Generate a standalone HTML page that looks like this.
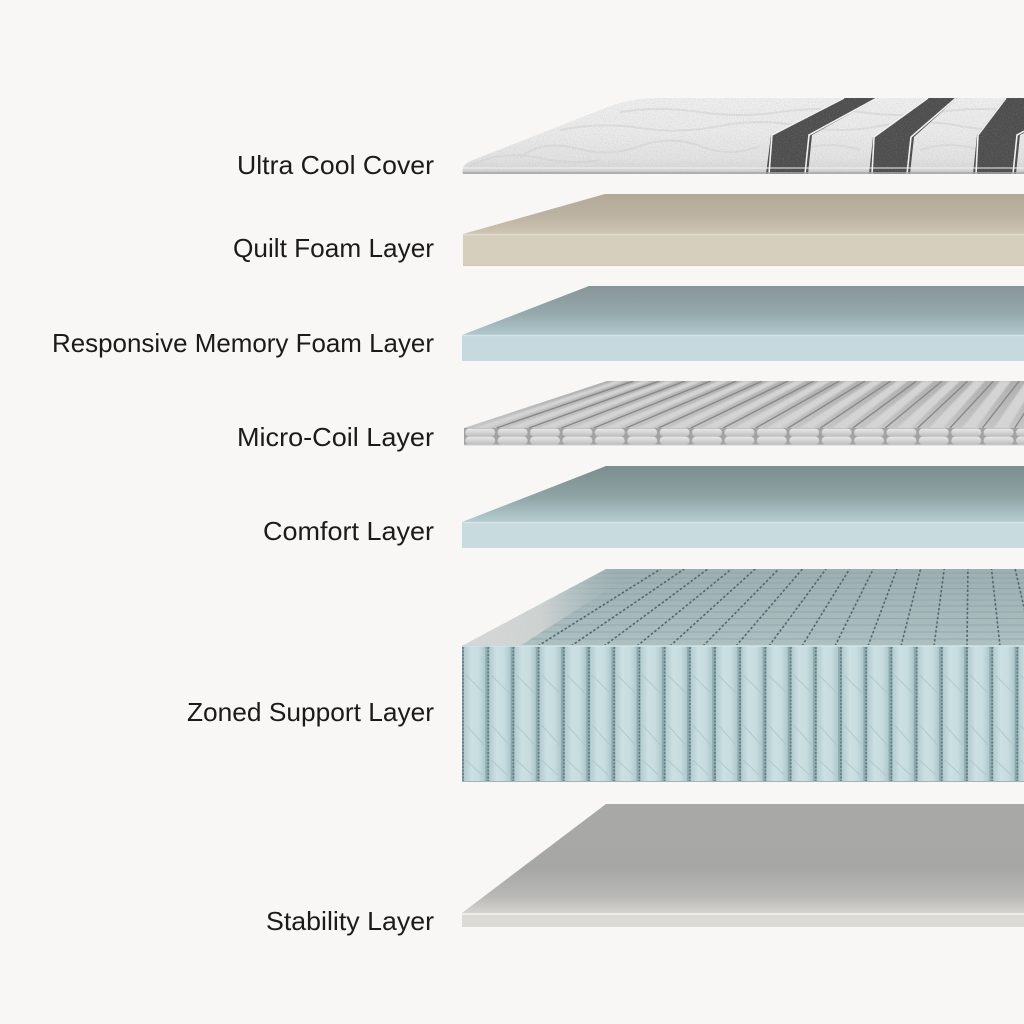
<!DOCTYPE html>
<html><head><meta charset="utf-8"><style>
html,body{margin:0;padding:0;background:#f8f7f5;}
svg{display:block;}
</style></head><body>
<svg width="1024" height="1024" viewBox="0 0 1024 1024" xmlns="http://www.w3.org/2000/svg">
<defs>
  <linearGradient id="coverG" x1="0" y1="98" x2="0" y2="174" gradientUnits="userSpaceOnUse">
    <stop offset="0" stop-color="#f0f0f0"/><stop offset="0.45" stop-color="#ececec"/>
    <stop offset="0.8" stop-color="#e4e4e4"/><stop offset="0.95" stop-color="#d8d8d8"/><stop offset="1" stop-color="#bdbdbd"/>
  </linearGradient>
  <linearGradient id="quiltTop" x1="0" y1="194" x2="0" y2="234" gradientUnits="userSpaceOnUse">
    <stop offset="0" stop-color="#b2a998"/><stop offset="0.6" stop-color="#bdb4a3"/><stop offset="1" stop-color="#cdc5b4"/>
  </linearGradient>
  <linearGradient id="memTop" x1="0" y1="286" x2="0" y2="335" gradientUnits="userSpaceOnUse">
    <stop offset="0" stop-color="#879598"/><stop offset="0.55" stop-color="#95a8ac"/><stop offset="1" stop-color="#b0c8cd"/>
  </linearGradient>
  <linearGradient id="comfTop" x1="0" y1="466" x2="0" y2="522" gradientUnits="userSpaceOnUse">
    <stop offset="0" stop-color="#7b8d8d"/><stop offset="0.55" stop-color="#8fa4a5"/><stop offset="1" stop-color="#b6cdd0"/>
  </linearGradient>
  <linearGradient id="stabTop" x1="0" y1="804" x2="0" y2="913" gradientUnits="userSpaceOnUse">
    <stop offset="0" stop-color="#a8a8a6"/><stop offset="0.6" stop-color="#a7a7a5"/><stop offset="0.85" stop-color="#b9b9b6"/><stop offset="1" stop-color="#d4d3cf"/>
  </linearGradient>
  <linearGradient id="coilTop" x1="0" y1="381" x2="0" y2="428" gradientUnits="userSpaceOnUse">
    <stop offset="0" stop-color="#b0b0b0"/><stop offset="1" stop-color="#c6c6c6"/>
  </linearGradient>
  <linearGradient id="coilCell" x1="0" y1="0" x2="0" y2="1">
    <stop offset="0" stop-color="#e8e8e8"/><stop offset="0.5" stop-color="#d4d4d4"/><stop offset="1" stop-color="#bcbcbc"/>
  </linearGradient>
  <linearGradient id="zoneTop" x1="0" y1="569" x2="0" y2="645" gradientUnits="userSpaceOnUse">
    <stop offset="0" stop-color="#9db0b2"/><stop offset="1" stop-color="#adc1c3"/>
  </linearGradient>
  <linearGradient id="pocketG" x1="0" y1="0" x2="1" y2="0">
    <stop offset="0" stop-color="#b3cbcf"/><stop offset="0.35" stop-color="#cbe0e3"/><stop offset="0.7" stop-color="#c6dcdf"/><stop offset="1" stop-color="#aec7cb"/>
  </linearGradient>
  <linearGradient id="zoneLeft" x1="462" y1="0" x2="620" y2="0" gradientUnits="userSpaceOnUse">
    <stop offset="0" stop-color="#d8dad8"/><stop offset="0.5" stop-color="#cfd4d3"/><stop offset="1" stop-color="#adc0c2" stop-opacity="0"/>
  </linearGradient>
  <pattern id="coilFront" patternUnits="userSpaceOnUse" x="464" y="428" width="32.4" height="17">
    <rect x="0" y="0" width="32.4" height="17" fill="#a2a2a2"/>
    <rect x="1.2" y="0.5" width="30" height="8" rx="4" fill="url(#coilCell)"/>
    <rect x="1.2" y="8.6" width="30" height="8" rx="4" fill="url(#coilCell)"/>
  </pattern>
  <pattern id="pockets" patternUnits="userSpaceOnUse" x="462" y="645" width="25.2" height="140">
    <rect x="0" y="0" width="25.2" height="140" fill="#8eaaae"/>
    <rect x="2" y="1" width="21.4" height="139" rx="3" fill="url(#pocketG)"/>
    <line x1="1" y1="2" x2="1" y2="140" stroke="#5f7b7f" stroke-width="1.6" stroke-dasharray="2 1.5"/>
    <path d="M4,30 L22,48 M4,80 L22,100 M4,115 L20,130" stroke="#a9c2c6" stroke-width="0.8" fill="none"/>
  </pattern>
  <filter id="noise" x="0" y="0" width="100%" height="100%">
    <feTurbulence type="fractalNoise" baseFrequency="0.85" numOctaves="2" seed="4"/>
    <feColorMatrix type="matrix" values="0 0 0 0 0.35  0 0 0 0 0.35  0 0 0 0 0.35  1.8 0 0 0 -0.7"/>
  </filter>
  <filter id="soft"><feGaussianBlur stdDeviation="0.8"/></filter>
  <clipPath id="coverClip"><path d="M463,174 Q460,165 473,160 L600,110 Q625,99 652,98 L1024,98 L1024,174 Z"/></clipPath>
  <clipPath id="coilClip"><path d="M607,381 L1024,381 L1024,428 L464,428 Z"/></clipPath>
  <clipPath id="zoneClip"><path d="M606,569 L1024,569 L1024,646 L462,646 Z"/></clipPath>
</defs>

<rect width="1024" height="1024" fill="#f8f7f5"/>

<!-- Ultra Cool Cover -->
<g clip-path="url(#coverClip)">
  <rect x="440" y="96" width="584" height="80" fill="url(#coverG)"/>
  <g stroke="#d6d6d6" stroke-width="2" fill="none" opacity="0.6">
    <path d="M520,158 Q540,140 575,148 Q610,158 640,146 Q670,135 700,146 Q730,158 760,146"/>
    <path d="M470,166 Q500,150 540,158 Q570,165 600,160"/>
    <path d="M560,130 Q600,122 640,128 Q680,134 720,126 Q760,118 800,126 Q840,134 880,126 Q920,118 960,126 Q990,132 1024,126"/>
    <path d="M620,112 Q660,106 700,112 Q740,118 780,112 Q820,106 860,112 Q900,118 940,112 Q980,106 1024,112"/>
    <path d="M800,150 Q830,140 860,150 M920,150 Q950,140 980,150"/>
  </g>
  <path d="M843,98 L878,98 L812,135 L808,174 L766,174 L771,135 Z" fill="#4c4c4c"/>
  <path d="M927,98 L957,98 L914,137 L910,174 L869,174 L873,137 Z" fill="#4c4c4c"/>
  <path d="M1005,98 L1030,98 L1030,130 L1020,135 L1016,174 L973,174 L977,135 Z" fill="#4c4c4c"/>
  <g stroke="#f6f6f6" stroke-width="1.6" fill="none">
    <path d="M769,174 L772,135 L844,98"/><path d="M805,174 L809,135 L877,98"/>
    <path d="M872,174 L874,137 L928,98"/><path d="M907,174 L911,137 L956,98"/>
    <path d="M976,174 L978,135 L1006,98"/><path d="M1013,174 L1017,135 L1030,128"/>
  </g>
  <rect x="440" y="96" width="584" height="80" filter="url(#noise)" opacity="0.3"/>
  <line x1="462" y1="168" x2="1024" y2="168" stroke="#f2f2f2" stroke-width="1.2" opacity="0.8"/>
  <line x1="462" y1="173" x2="1024" y2="173" stroke="#a9a9a9" stroke-width="1.5"/>
</g>

<!-- Quilt Foam Layer -->
<path d="M605,194 L1024,194 L1024,234 L463,234 Z" fill="url(#quiltTop)"/>
<rect x="463" y="234" width="561" height="32" fill="#d7cfbe"/>
<line x1="463" y1="234.5" x2="1024" y2="234.5" stroke="#e2dbcc" stroke-width="1.5"/>
<line x1="463" y1="265.5" x2="1024" y2="265.5" stroke="#cfc7b6" stroke-width="1"/>

<!-- Responsive Memory Foam Layer -->
<path d="M589,286 L1024,286 L1024,335 L462,335 Z" fill="url(#memTop)"/>
<rect x="462" y="335" width="562" height="26" fill="#c5d9de"/>
<line x1="462" y1="335.5" x2="1024" y2="335.5" stroke="#d3e3e7" stroke-width="1.5"/>

<!-- Micro-Coil Layer -->
<path d="M607,381 L1024,381 L1024,428 L464,428 Z" fill="url(#coilTop)"/>
<g clip-path="url(#coilClip)">
  <g fill="#d6d6d6" filter="url(#soft)">
    <path d="M474,428 L488,428 L626,381 L615,381 Z"/>
    <path d="M507,428 L521,428 L652,381 L641,381 Z"/>
    <path d="M539,428 L553,428 L677,381 L666,381 Z"/>
    <path d="M572,428 L586,428 L703,381 L692,381 Z"/>
    <path d="M604,428 L618,428 L729,381 L718,381 Z"/>
    <path d="M637,428 L651,428 L754,381 L743,381 Z"/>
    <path d="M669,428 L683,428 L780,381 L769,381 Z"/>
    <path d="M702,428 L716,428 L806,381 L795,381 Z"/>
    <path d="M734,428 L748,428 L831,381 L820,381 Z"/>
    <path d="M767,428 L781,428 L857,381 L846,381 Z"/>
    <path d="M799,428 L813,428 L883,381 L872,381 Z"/>
    <path d="M832,428 L846,428 L908,381 L897,381 Z"/>
    <path d="M864,428 L878,428 L934,381 L923,381 Z"/>
    <path d="M897,428 L911,428 L960,381 L949,381 Z"/>
    <path d="M929,428 L943,428 L985,381 L974,381 Z"/>
    <path d="M962,428 L976,428 L1011,381 L1000,381 Z"/>
    <path d="M994,428 L1008,428 L1037,381 L1026,381 Z"/>
  </g>
  <g stroke="#888888" stroke-width="1.4" fill="none">
    <line x1="496.4" y1="428" x2="633.7" y2="381"/><line x1="528.8" y1="428" x2="659.4" y2="381"/>
    <line x1="561.2" y1="428" x2="685.1" y2="381"/><line x1="593.6" y1="428" x2="710.8" y2="381"/>
    <line x1="626" y1="428" x2="736.5" y2="381"/><line x1="658.4" y1="428" x2="762.2" y2="381"/>
    <line x1="690.8" y1="428" x2="787.9" y2="381"/><line x1="723.2" y1="428" x2="813.6" y2="381"/>
    <line x1="755.6" y1="428" x2="839.3" y2="381"/><line x1="788" y1="428" x2="865" y2="381"/>
    <line x1="820.4" y1="428" x2="890.7" y2="381"/><line x1="852.8" y1="428" x2="916.4" y2="381"/>
    <line x1="885.2" y1="428" x2="942.1" y2="381"/><line x1="917.6" y1="428" x2="967.8" y2="381"/>
    <line x1="950" y1="428" x2="993.5" y2="381"/><line x1="982.4" y1="428" x2="1019.2" y2="381"/>
    <line x1="1014.8" y1="428" x2="1044.9" y2="381"/>
  </g>
  <rect x="440" y="380" width="584" height="50" filter="url(#noise)" opacity="0.15"/>
</g>
<rect x="464" y="428" width="560" height="17" fill="url(#coilFront)"/>
<line x1="464" y1="445" x2="1024" y2="445" stroke="#cfcfcf" stroke-width="1"/>

<!-- Comfort Layer -->
<path d="M606,466 L1024,466 L1024,522 L462,522 Z" fill="url(#comfTop)"/>
<rect x="462" y="522" width="562" height="26" fill="#c8dcdf"/>
<line x1="462" y1="522.5" x2="1024" y2="522.5" stroke="#d6e6e8" stroke-width="1.5"/>

<!-- Zoned Support Layer -->
<path d="M606,569 L1024,569 L1024,646 L462,646 Z" fill="url(#zoneTop)"/>
<g clip-path="url(#zoneClip)">
  <g stroke="#8ca2a5" stroke-width="1" opacity="0.7">
    <line x1="440" y1="573" x2="1024" y2="573"/><line x1="440" y1="578" x2="1024" y2="578"/>
    <line x1="440" y1="583" x2="1024" y2="583"/><line x1="440" y1="588.5" x2="1024" y2="588.5"/>
    <line x1="440" y1="594" x2="1024" y2="594"/><line x1="440" y1="600" x2="1024" y2="600"/>
    <line x1="440" y1="606" x2="1024" y2="606"/><line x1="440" y1="612" x2="1024" y2="612"/>
    <line x1="440" y1="618.5" x2="1024" y2="618.5"/><line x1="440" y1="625" x2="1024" y2="625"/>
    <line x1="440" y1="632" x2="1024" y2="632"/><line x1="440" y1="639" x2="1024" y2="639"/>
  </g>
  <path d="M606,569 L640,569 L520,646 L462,646 Z" fill="url(#zoneLeft)"/>
  <g stroke="#4f686c" stroke-width="1.6" stroke-dasharray="2.5 2" fill="none">
    <line x1="538" y1="646" x2="660.5" y2="569"/><line x1="571" y1="646" x2="684.2" y2="569"/>
    <line x1="604" y1="646" x2="707.8" y2="569"/><line x1="637" y1="646" x2="731.4" y2="569"/>
    <line x1="670" y1="646" x2="755.1" y2="569"/><line x1="703" y1="646" x2="778.7" y2="569"/>
    <line x1="736" y1="646" x2="802.4" y2="569"/><line x1="769" y1="646" x2="826" y2="569"/>
    <line x1="802" y1="646" x2="849.6" y2="569"/><line x1="835" y1="646" x2="873.3" y2="569"/>
    <line x1="868" y1="646" x2="896.9" y2="569"/><line x1="901" y1="646" x2="920.6" y2="569"/>
    <line x1="934" y1="646" x2="944.2" y2="569"/><line x1="967" y1="646" x2="967.9" y2="569"/>
    <line x1="1000" y1="646" x2="991.5" y2="569"/><line x1="1033" y1="646" x2="1015.1" y2="569"/>
  </g>
  <rect x="440" y="569" width="584" height="78" filter="url(#noise)" opacity="0.15"/>
</g>
<rect x="462" y="645" width="562" height="137" fill="url(#pockets)"/>
<line x1="462" y1="646" x2="1024" y2="646" stroke="#d5e5e7" stroke-width="2" opacity="0.8"/>
<line x1="462" y1="781.5" x2="1024" y2="781.5" stroke="#9cb5b8" stroke-width="1"/>

<!-- Stability Layer -->
<path d="M606,804 L1024,804 L1024,913 L462,913 Z" fill="url(#stabTop)"/>
<rect x="462" y="913" width="562" height="14" fill="#dbdad5"/>
<line x1="462" y1="914" x2="1024" y2="914" stroke="#eeede9" stroke-width="2"/>

<!-- Labels -->
<g font-family="'Liberation Sans', 'DejaVu Sans', sans-serif" font-size="26" fill="#1b1b1b" text-anchor="end">
  <text x="434" y="174" textLength="197" lengthAdjust="spacingAndGlyphs">Ultra Cool Cover</text>
  <text x="434" y="257" textLength="201" lengthAdjust="spacingAndGlyphs">Quilt Foam Layer</text>
  <text x="434" y="352" textLength="382" lengthAdjust="spacingAndGlyphs">Responsive Memory Foam Layer</text>
  <text x="434" y="446" textLength="197" lengthAdjust="spacingAndGlyphs">Micro-Coil Layer</text>
  <text x="434" y="540" textLength="171" lengthAdjust="spacingAndGlyphs">Comfort Layer</text>
  <text x="434" y="721" textLength="247" lengthAdjust="spacingAndGlyphs">Zoned Support Layer</text>
  <text x="434" y="930" textLength="168" lengthAdjust="spacingAndGlyphs">Stability Layer</text>
</g>
</svg>
</body></html>
